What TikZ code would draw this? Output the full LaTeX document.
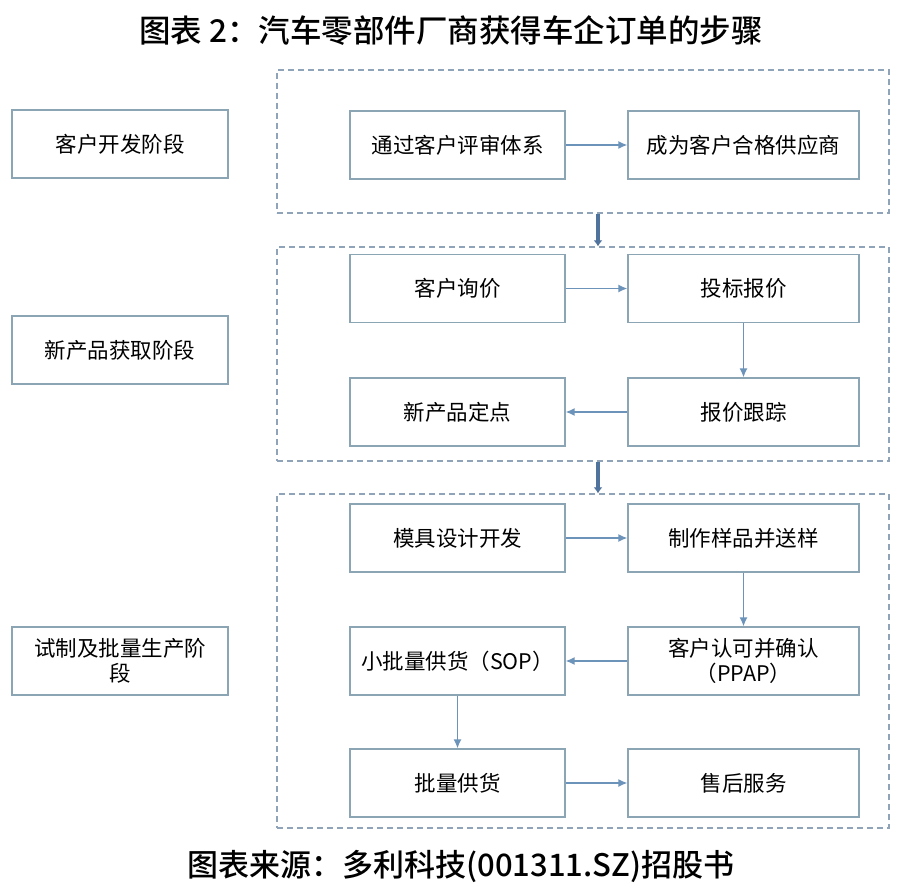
\documentclass[tikz,border=0pt]{standalone}
\usepackage{fontspec}
\newfontfamily\cjk{Noto Sans CJK SC}
\newfontfamily\cjkb{Noto Sans CJK SC Medium}
\usetikzlibrary{arrows.meta}
\definecolor{boxc}{HTML}{8CA5B5}
\definecolor{arrc}{HTML}{6C93BA}
\definecolor{dashc}{HTML}{8FA4B8}
\definecolor{thickc}{HTML}{50739E}
\tikzset{
  stagebox/.style={draw=boxc, line width=1.2pt, fill=white, minimum width=216pt, minimum height=68pt, align=center, inner sep=2pt, font=\cjk\fontsize{21.5}{25}\selectfont, text=black},
  lbox/.style={stagebox, minimum width=215pt},
  rbox/.style={stagebox, minimum width=231pt},
  groupbox/.style={draw=dashc, line width=1.3pt, dash pattern=on 6pt off 4pt, minimum width=612pt, inner sep=0pt},
  flow/.style={draw=arrc, line width=1.5pt, -{Latex[length=9pt,width=8pt]}},
  bigflow/.style={draw=thickc, line width=4pt, -{Latex[length=6pt,width=9pt]}}
}
\begin{document}
\begin{tikzpicture}[x=1pt,y=-1pt]
\useasboundingbox[fill=white] (0,0) rectangle (902,896);
\node[font=\cjkb\fontsize{31.5}{34}\selectfont] (title) at (451,31) {图表 2：汽车零部件厂商获得车企订单的步骤};
\node[font=\cjkb\fontsize{31}{34}\selectfont] (source) at (461,866) {图表来源：多利科技(001311.SZ)招股书};

% stage labels
\node[stagebox] (s1) at (120,144) {客户开发阶段};
\node[stagebox] (s2) at (120,350) {新产品获取阶段};
\node[stagebox] (s3) at (120,661) {试制及批量生产阶\\段};

% group boxes
\node[groupbox, minimum height=143pt] (g1) at (583,141.5) {};
\node[groupbox, minimum height=214pt] (g2) at (583,354) {};
\node[groupbox, minimum height=334pt] (g3) at (583,661) {};

% group 1
\node[lbox] (a1) at (457.5,145) {通过客户评审体系};
\node[rbox] (a2) at (743.5,145) {成为客户合格供应商};
% group 2
\node[lbox] (b1) at (457.5,288.5) {客户询价};
\node[rbox] (b2) at (743.5,288.5) {投标报价};
\node[lbox] (b3) at (457.5,412) {新产品定点};
\node[rbox] (b4) at (743.5,412) {报价跟踪};
% group 3
\node[lbox] (c1) at (457.5,538) {模具设计开发};
\node[rbox] (c2) at (743.5,538) {制作样品并送样};
\node[lbox] (c3) at (457.5,661) {小批量供货（SOP）};
\node[rbox] (c4) at (743.5,661) {客户认可并确认\\（PPAP）};
\node[lbox] (c5) at (457.5,783) {批量供货};
\node[rbox] (c6) at (743.5,783) {售后服务};

% flows
\draw[flow] (a1) -- (a2);
\draw[flow] (b1) -- (b2);
\draw[flow] (b2) -- (b4);
\draw[flow] (b4) -- (b3);
\draw[flow] (c1) -- (c2);
\draw[flow] (c2) -- (c4);
\draw[flow] (c4) -- (c3);
\draw[flow] (c3) -- (c5);
\draw[flow] (c5) -- (c6);

% between groups
\draw[bigflow] ([xshift=15pt]g1.south) -- ([xshift=15pt]g2.north);
\draw[bigflow] ([xshift=15pt]g2.south) -- ([xshift=15pt]g3.north);
\end{tikzpicture}
\end{document}
